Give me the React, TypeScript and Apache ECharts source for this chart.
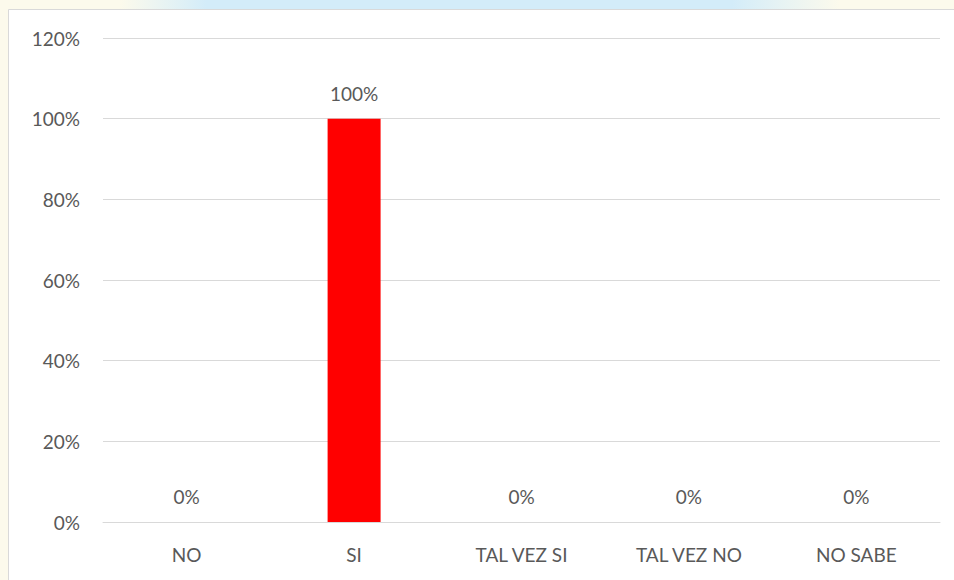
import React, { useEffect, useRef } from "react";
import * as echarts from "echarts";

const categories = ["NO", "SI", "TAL VEZ SI", "TAL VEZ NO", "NO SABE"];
const values = [0, 100, 0, 0, 0];
const yTicks = [0, 20, 40, 60, 80, 100, 120];

export default function App() {
  const ref = useRef<HTMLDivElement>(null);
  useEffect(() => {
    if (!ref.current) return;
    const chart = echarts.init(ref.current, null, { renderer: "svg" });
    const font = "Lato, 'Open Sans', sans-serif";
    chart.setOption({
      animation: false,
      backgroundColor: "#fcfaec",
      graphic: [
        {
          type: "rect",
          silent: true,
          z: -10,
          shape: { x: 120, y: 0, width: 720, height: 10 },
          style: {
            fill: {
              type: "linear",
              x: 0, y: 0, x2: 1, y2: 0,
              colorStops: [
                { offset: 0, color: "rgba(214,238,250,0)" },
                { offset: 0.12, color: "#d3ecf9" },
                { offset: 0.85, color: "#d3ecf9" },
                { offset: 1, color: "rgba(214,238,250,0)" },
              ],
            },
          },
        },
        {
          type: "rect",
          silent: true,
          z: -9,
          shape: { x: 8.5, y: 9.5, width: 960, height: 600 },
          style: { fill: "#ffffff", stroke: "#d9d9d9", lineWidth: 1 },
        },
      ],
      grid: { left: 103, right: 14, top: 38, bottom: 58, containLabel: false },
      xAxis: {
        type: "category",
        data: categories,
        axisLine: { show: true, lineStyle: { color: "#d9d9d9", width: 1 } },
        axisTick: { show: false },
        axisLabel: { color: "#595959", fontSize: 19, fontFamily: font, margin: 23 },
      },
      yAxis: {
        type: "value",
        min: yTicks[0],
        max: yTicks[yTicks.length - 1],
        interval: 20,
        axisLine: { show: false },
        axisTick: { show: false },
        splitLine: { lineStyle: { color: "#d9d9d9", width: 1 } },
        axisLabel: {
          color: "#595959",
          fontSize: 19,
          fontFamily: font,
          margin: 23,
          formatter: (v: number) => v + "%",
        },
      },
      series: [
        {
          type: "bar",
          data: values,
          barWidth: 53,
          itemStyle: { color: "#ff0000" },
          label: {
            show: true,
            position: "top",
            distance: 16,
            color: "#595959",
            fontSize: 19,
            fontFamily: font,
            formatter: (p: any) => p.value + "%",
          },
        },
      ],
    });
    return () => chart.dispose();
  }, []);
  return (
    <div
      ref={ref}
      style={{ position: "fixed", left: 0, top: 0, width: 954, height: 580 }}
    />
  );
}
